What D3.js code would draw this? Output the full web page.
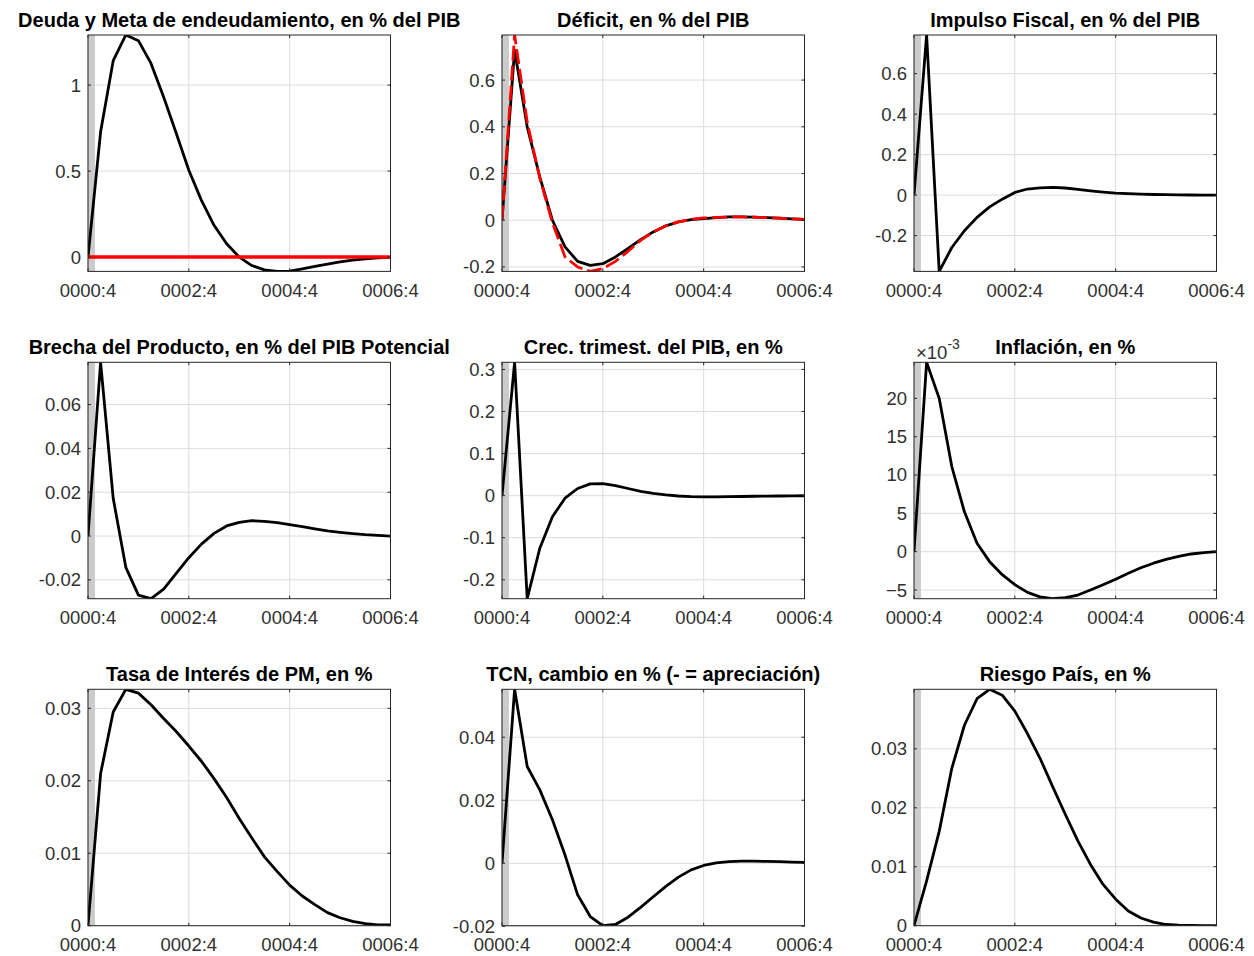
<!DOCTYPE html><html><head><meta charset="UTF-8"><script src="https://d3js.org/d3.v7.min.js"></script><style>
            body { margin: 0; background: #fff; }
            svg { font-family: "Liberation Sans", Arial, Helvetica, sans-serif; }
            .title { font-size: 20px; font-weight: bold; fill: #000; }
            .tick-label { font-size: 18.5px; fill: #303030; }
            .grid { stroke: #dcdcdc; stroke-width: 1; }
            .box { fill: none; stroke: #262626; stroke-width: 1; }
            .tickmark { stroke: #262626; stroke-width: 1; }
        </style></head><body><div id="chart"></div><script>
            // quarter offsets, 0000:4 .. 0006:4
            const periods = d3.range(0, 25);
            const xTickValues = [0, 8, 16, 24];
            const xTickLabels = ["0000:4", "0002:4", "0004:4", "0006:4"];

            const deuda = [0, 0.728, 1.142, 1.291, 1.258, 1.126, 0.93, 0.72, 0.505, 0.33, 0.185, 0.078, 0.0,
                -0.049, -0.074, -0.083, -0.082, -0.068, -0.054, -0.041, -0.027, -0.017, -0.01, -0.004, -0.001];
            const metaDeuda = [0, 0, 0, 0, 0, 0, 0, 0, 0, 0, 0, 0, 0, 0, 0, 0, 0, 0, 0, 0, 0, 0, 0, 0, 0];
            const deficit = [0, 0.729, 0.40, 0.186, 0.0, -0.114, -0.176, -0.193, -0.186, -0.157, -0.121, -0.083, -0.05,
                -0.024, -0.007, 0.003, 0.007, 0.011, 0.014, 0.014, 0.013, 0.011, 0.009, 0.006, 0.004];
            const deficitMeta = [0, 0.793, 0.42, 0.18, -0.01, -0.157, -0.2, -0.219, -0.207, -0.176, -0.133, -0.086, -0.05,
                -0.024, -0.007, 0.004, 0.01, 0.012, 0.014, 0.014, 0.013, 0.011, 0.009, 0.006, 0.004];
            const impulso = [0, 0.791, -0.377, -0.259, -0.176, -0.11, -0.058, -0.02, 0.013, 0.03, 0.036, 0.038, 0.035,
                0.028, 0.021, 0.015, 0.01, 0.007, 0.005, 0.003, 0.002, 0.001, 0.0005, 0, 0];
            const brecha = [0, 0.0793, 0.0172, -0.0143, -0.027, -0.0286, -0.0242, -0.017, -0.0099, -0.0037, 0.0012, 0.0046, 0.0062,
                0.007, 0.0067, 0.0061, 0.0052, 0.0043, 0.0033, 0.0024, 0.0017, 0.0011, 0.0006, 0.0003, 0.0];
            const crecimiento = [0, 0.317, -0.245, -0.125, -0.05, -0.006, 0.017, 0.028, 0.0285, 0.024, 0.017, 0.0103, 0.0055,
                0.0016, -0.0008, -0.0024, -0.003, -0.003, -0.0025, -0.002, -0.0015, -0.001, -0.0008, -0.0005, -0.0003];
            const inflacion = [0, 0.0247, 0.020, 0.0111, 0.0052, 0.0011, -0.0013, -0.003, -0.0043, -0.0053, -0.0059, -0.00613, -0.006,
                -0.00565, -0.005, -0.0043, -0.0036, -0.0028, -0.0021, -0.0015, -0.001, -0.0006, -0.0003, -0.00013, 0];
            const tasaPM = [0, 0.021, 0.0295, 0.03263, 0.0321, 0.0305, 0.0286, 0.0268, 0.0248, 0.0227, 0.0203, 0.0177, 0.0148,
                0.0121, 0.0095, 0.0075, 0.0056, 0.0041, 0.0029, 0.0018, 0.0011, 0.0006, 0.0003, 0.0001, 0.0001];
            const tcn = [0, 0.0552, 0.0307, 0.0233, 0.0138, 0.0026, -0.01, -0.0169, -0.0198, -0.0194, -0.0171, -0.014, -0.0106,
                -0.0073, -0.0044, -0.0021, -0.0007, 0.0001, 0.0005, 0.0007, 0.0007, 0.0006, 0.0005, 0.0004, 0.0003];
            const riesgo = [0, 0.0076, 0.016, 0.0267, 0.034, 0.0385, 0.0401, 0.0391, 0.0364, 0.0326, 0.0284, 0.0236, 0.0189,
                0.0144, 0.0104, 0.007, 0.0045, 0.0025, 0.0013, 0.0006, 0.0002, 0.0001, 0.00005, 0, 0];

            const titles = [
                "Deuda y Meta de endeudamiento, en % del PIB", "Déficit, en % del PIB", "Impulso Fiscal, en % del PIB",
                "Brecha del Producto, en % del PIB Potencial", "Crec. trimest. del PIB, en %", "Inflación, en %",
                "Tasa de Interés de PM, en %", "TCN, cambio en % (- = apreciación)", "Riesgo País, en %"
            ];
            const yTicks = [
                [0, 0.5, 1], [-0.2, 0, 0.2, 0.4, 0.6], [-0.2, 0, 0.2, 0.4, 0.6],
                [-0.02, 0, 0.02, 0.04, 0.06], [-0.2, -0.1, 0, 0.1, 0.2, 0.3], [-0.005, 0, 0.005, 0.01, 0.015, 0.02],
                [0, 0.01, 0.02, 0.03], [-0.02, 0, 0.02, 0.04], [0, 0.01, 0.02, 0.03]
            ];
            const series = [
                [{v: deuda, c: "#000"}, {v: metaDeuda, c: "#ff0000", w: 3.5}],
                [{v: deficit, c: "#000"}, {v: deficitMeta, c: "#ff0000", dash: "15,5"}],
                [{v: impulso, c: "#000"}],
                [{v: brecha, c: "#000"}],
                [{v: crecimiento, c: "#000"}],
                [{v: inflacion, c: "#000"}],
                [{v: tasaPM, c: "#000"}],
                [{v: tcn, c: "#000"}],
                [{v: riesgo, c: "#000"}]
            ];

            const colX = [88, 502, 914];
            const rowY = [35, 362.3, 689.3];
            const pw = 302.5, ph = 236.4;

            const svg = d3.select('#chart').append('svg')
                .attr('width', 1254).attr('height', 956);

            titles.forEach((title, i) => {
                const ox = colX[i % 3], oy = rowY[Math.floor(i / 3)];
                const g = svg.append('g').attr('transform', `translate(${ox},${oy})`);

                const x = d3.scaleLinear().domain([0, 24]).range([0, pw]);
                const all = series[i].flatMap(s => s.v);
                const y = d3.scaleLinear().domain(d3.extent(all)).range([ph, 0]);

                g.append('defs').append('clipPath').attr('id', 'clip' + i)
                    .append('rect').attr('width', pw).attr('height', ph);

                // grid
                g.selectAll('.gx').data(xTickValues).enter().append('line')
                    .attr('class', 'grid').attr('x1', d => x(d)).attr('x2', d => x(d))
                    .attr('y1', 0).attr('y2', ph);
                g.selectAll('.gy').data(yTicks[i]).enter().append('line')
                    .attr('class', 'grid').attr('x1', 0).attr('x2', pw)
                    .attr('y1', d => y(d)).attr('y2', d => y(d));

                // start period highlight
                g.append('rect').attr('x', x(0)).attr('y', 0)
                    .attr('width', x(0.55) - x(0)).attr('height', ph)
                    .attr('fill', '#cbcbcb');

                const line = d3.line().x((d, j) => x(periods[j])).y(d => y(d));
                const lines = g.append('g').attr('clip-path', `url(#clip${i})`);
                series[i].forEach(s => {
                    lines.append('path').datum(s.v)
                        .attr('d', line)
                        .attr('fill', 'none')
                        .attr('stroke', s.c)
                        .attr('stroke-width', s.w || 2.8)
                        .attr('stroke-linejoin', 'round')
                        .attr('stroke-dasharray', s.dash || null);
                });

                // box and ticks
                g.append('rect').attr('class', 'box').attr('width', pw).attr('height', ph);
                const tl = 3;
                xTickValues.forEach(t => {
                    g.append('line').attr('class', 'tickmark').attr('x1', x(t)).attr('x2', x(t)).attr('y1', ph).attr('y2', ph - tl);
                    g.append('line').attr('class', 'tickmark').attr('x1', x(t)).attr('x2', x(t)).attr('y1', 0).attr('y2', tl);
                });
                yTicks[i].forEach(t => {
                    g.append('line').attr('class', 'tickmark').attr('x1', 0).attr('x2', tl).attr('y1', y(t)).attr('y2', y(t));
                    g.append('line').attr('class', 'tickmark').attr('x1', pw).attr('x2', pw - tl).attr('y1', y(t)).attr('y2', y(t));
                });

                g.selectAll('.xl').data(xTickValues).enter().append('text')
                    .attr('class', 'tick-label').attr('x', d => x(d)).attr('y', ph + 25.7)
                    .attr('text-anchor', 'middle').text((d, j) => xTickLabels[j]);

                const scaled = i === 5;
                const fmt = d => scaled ? d3.format('d')(Math.round(d * 1000)) : String(+d.toFixed(4));
                g.selectAll('.yl').data(yTicks[i]).enter().append('text')
                    .attr('class', 'tick-label').attr('x', -7).attr('y', d => y(d)).attr('dy', '0.35em')
                    .attr('text-anchor', 'end').text(fmt);

                if (scaled) {
                    const ex = g.append('text').attr('class', 'tick-label').attr('x', 2).attr('y', -3);
                    ex.append('tspan').text('×10');
                    ex.append('tspan').attr('dy', -10).style('font-size', '14px').text('-3');
                }

                g.append('text').attr('class', 'title')
                    .attr('x', pw / 2).attr('y', -8)
                    .attr('text-anchor', 'middle').text(title);
            });
        </script></body></html>
